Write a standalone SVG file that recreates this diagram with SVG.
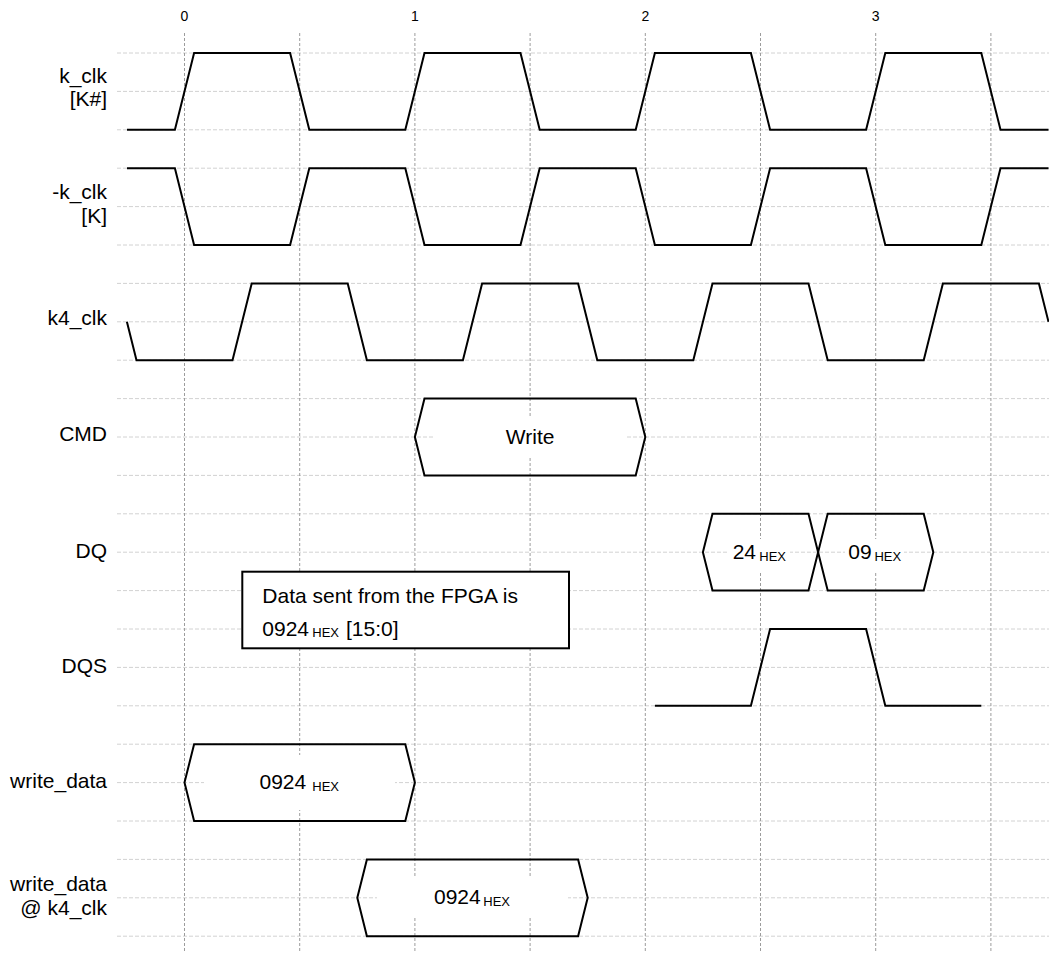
<svg xmlns="http://www.w3.org/2000/svg" width="1049" height="953" viewBox="0 0 1049 953">
<style>
text{font-family:"Liberation Sans",Arial,sans-serif;fill:#000}
.lbl{font-size:21px;text-anchor:end}
.num{font-size:14px;text-anchor:middle}
.big{font-size:21px}
.sub{font-size:13px}
.vg{stroke:#9c9c9c;stroke-width:1;stroke-dasharray:3 2;fill:none}
.hg{stroke:#d2d2d2;stroke-width:1;stroke-dasharray:4 2;fill:none}
.w{stroke:#000;stroke-width:2;fill:none;stroke-linejoin:miter}
.bg{fill:#fff;stroke:none}
</style>
<rect width="1049" height="953" fill="#fff"/>
<g id="grid">
<g class="hg">
<path d="M117 53H1049M117 91.4H1049M117 129.8H1049M117 168.2H1049M117 206.6H1049M117 245H1049M117 283.4H1049M117 321.8H1049M117 360.2H1049M117 398.6H1049M117 437H1049M117 475.4H1049M117 513.8H1049M117 552.2H1049M117 590.6H1049M117 629H1049M117 667.4H1049M117 705.8H1049M117 744.2H1049M117 782.6H1049M117 821H1049M117 859.4H1049M117 897.8H1049M117 936.2H1049"/>
</g>
<g class="vg">
<path d="M184.5 33V953M299.7 33V953M414.9 33V953M530.1 33V953M645.3 33V953M760.5 33V953M875.7 33V953M990.9 33V953"/>
</g>
<text class="num" x="184.5" y="21">0</text>
<text class="num" x="414.9" y="21">1</text>
<text class="num" x="645.3" y="21">2</text>
<text class="num" x="875.7" y="21">3</text>
</g>
<g id="k_clk">
<text class="lbl" x="107" y="83">k_clk</text>
<text class="lbl" x="107" y="105.5">[K#]</text>
<polyline class="w" points="127,129.8 174.9,129.8 194.1,53 290.1,53 309.3,129.8 405.3,129.8 424.5,53 520.5,53 539.7,129.8 635.7,129.8 654.9,53 750.9,53 770.1,129.8 866.1,129.8 885.3,53 981.3,53 1000.5,129.8 1048.5,129.8"/>
</g>
<g id="k_clk_n">
<text class="lbl" x="107" y="198.5">-k_clk</text>
<text class="lbl" x="107" y="222.5">[K]</text>
<polyline class="w" points="127,168.2 174.9,168.2 194.1,245 290.1,245 309.3,168.2 405.3,168.2 424.5,245 520.5,245 539.7,168.2 635.7,168.2 654.9,245 750.9,245 770.1,168.2 866.1,168.2 885.3,245 981.3,245 1000.5,168.2 1048.5,168.2"/>
</g>
<g id="k4_clk">
<text class="lbl" x="107" y="325">k4_clk</text>
<polyline class="w" points="126.9,321.8 136.5,360.2 232.5,360.2 251.7,283.4 347.7,283.4 366.9,360.2 462.9,360.2 482.1,283.4 578.1,283.4 597.3,360.2 693.3,360.2 712.5,283.4 808.5,283.4 827.7,360.2 923.7,360.2 942.9,283.4 1038.9,283.4 1048.5,321.8"/>
</g>
<g id="cmd">
<text class="lbl" x="107" y="440.5">CMD</text>
<polygon class="w" points="414.9,437 424.5,398.6 635.7,398.6 645.3,437 635.7,475.4 424.5,475.4"/>
<rect class="bg" x="434" y="417" width="192" height="40"/>
<text class="big" x="530.1" y="443.5" text-anchor="middle">Write</text>
</g>
<g id="dq">
<text class="lbl" x="107" y="558">DQ</text>
<polygon class="w" points="702.9,552.2 712.5,513.8 808.5,513.8 818.1,552.2 808.5,590.6 712.5,590.6"/>
<polygon class="w" points="818.1,552.2 827.7,513.8 923.7,513.8 933.3,552.2 923.7,590.6 827.7,590.6"/>
<rect class="bg" x="729" y="539" width="61" height="32"/>
<rect class="bg" x="845" y="539" width="59" height="32"/>
<text class="big" y="559"><tspan x="732.7">24</tspan><tspan class="sub" x="759.3" y="560.5">HEX</tspan></text>
<text class="big" y="559"><tspan x="848.3">09</tspan><tspan class="sub" x="874.4" y="560.5">HEX</tspan></text>
</g>
<g id="dqs">
<text class="lbl" x="107" y="673">DQS</text>
<polyline class="w" points="654.9,705.8 750.9,705.8 770.1,629 866.1,629 885.3,705.8 981.3,705.8"/>
</g>
<g id="note">
<rect x="242.3" y="571.7" width="326.7" height="76.6" fill="#fff" stroke="#000" stroke-width="2"/>
<text class="big" x="262.3" y="602.5">Data sent from the FPGA is</text>
<text class="big" y="636"><tspan x="262.3">0924</tspan><tspan class="sub" x="312.3" y="636.5">HEX</tspan><tspan x="346" y="636">[15:0]</tspan></text>
</g>
<g id="write_data">
<text class="lbl" x="107" y="788">write_data</text>
<polygon class="w" points="184.5,782.6 194.1,744.2 405.3,744.2 414.9,782.6 405.3,821 194.1,821"/>
<rect class="bg" x="204" y="755" width="191" height="55"/>
<text class="big" y="788.5"><tspan x="259.5">0924</tspan><tspan class="sub" x="312.3" y="790.7">HEX</tspan></text>
</g>
<g id="write_data_k4">
<text class="lbl" x="107" y="891">write_data</text>
<text class="lbl" x="107" y="915">@ k4_clk</text>
<polygon class="w" points="357.3,897.8 366.9,859.4 578.1,859.4 587.7,897.8 578.1,936.2 366.9,936.2"/>
<rect class="bg" x="377" y="877" width="191" height="40"/>
<text class="big" y="904"><tspan x="434">0924</tspan><tspan class="sub" x="483.3" y="905.7">HEX</tspan></text>
</g>
<g id="connectors"/>
</svg>
